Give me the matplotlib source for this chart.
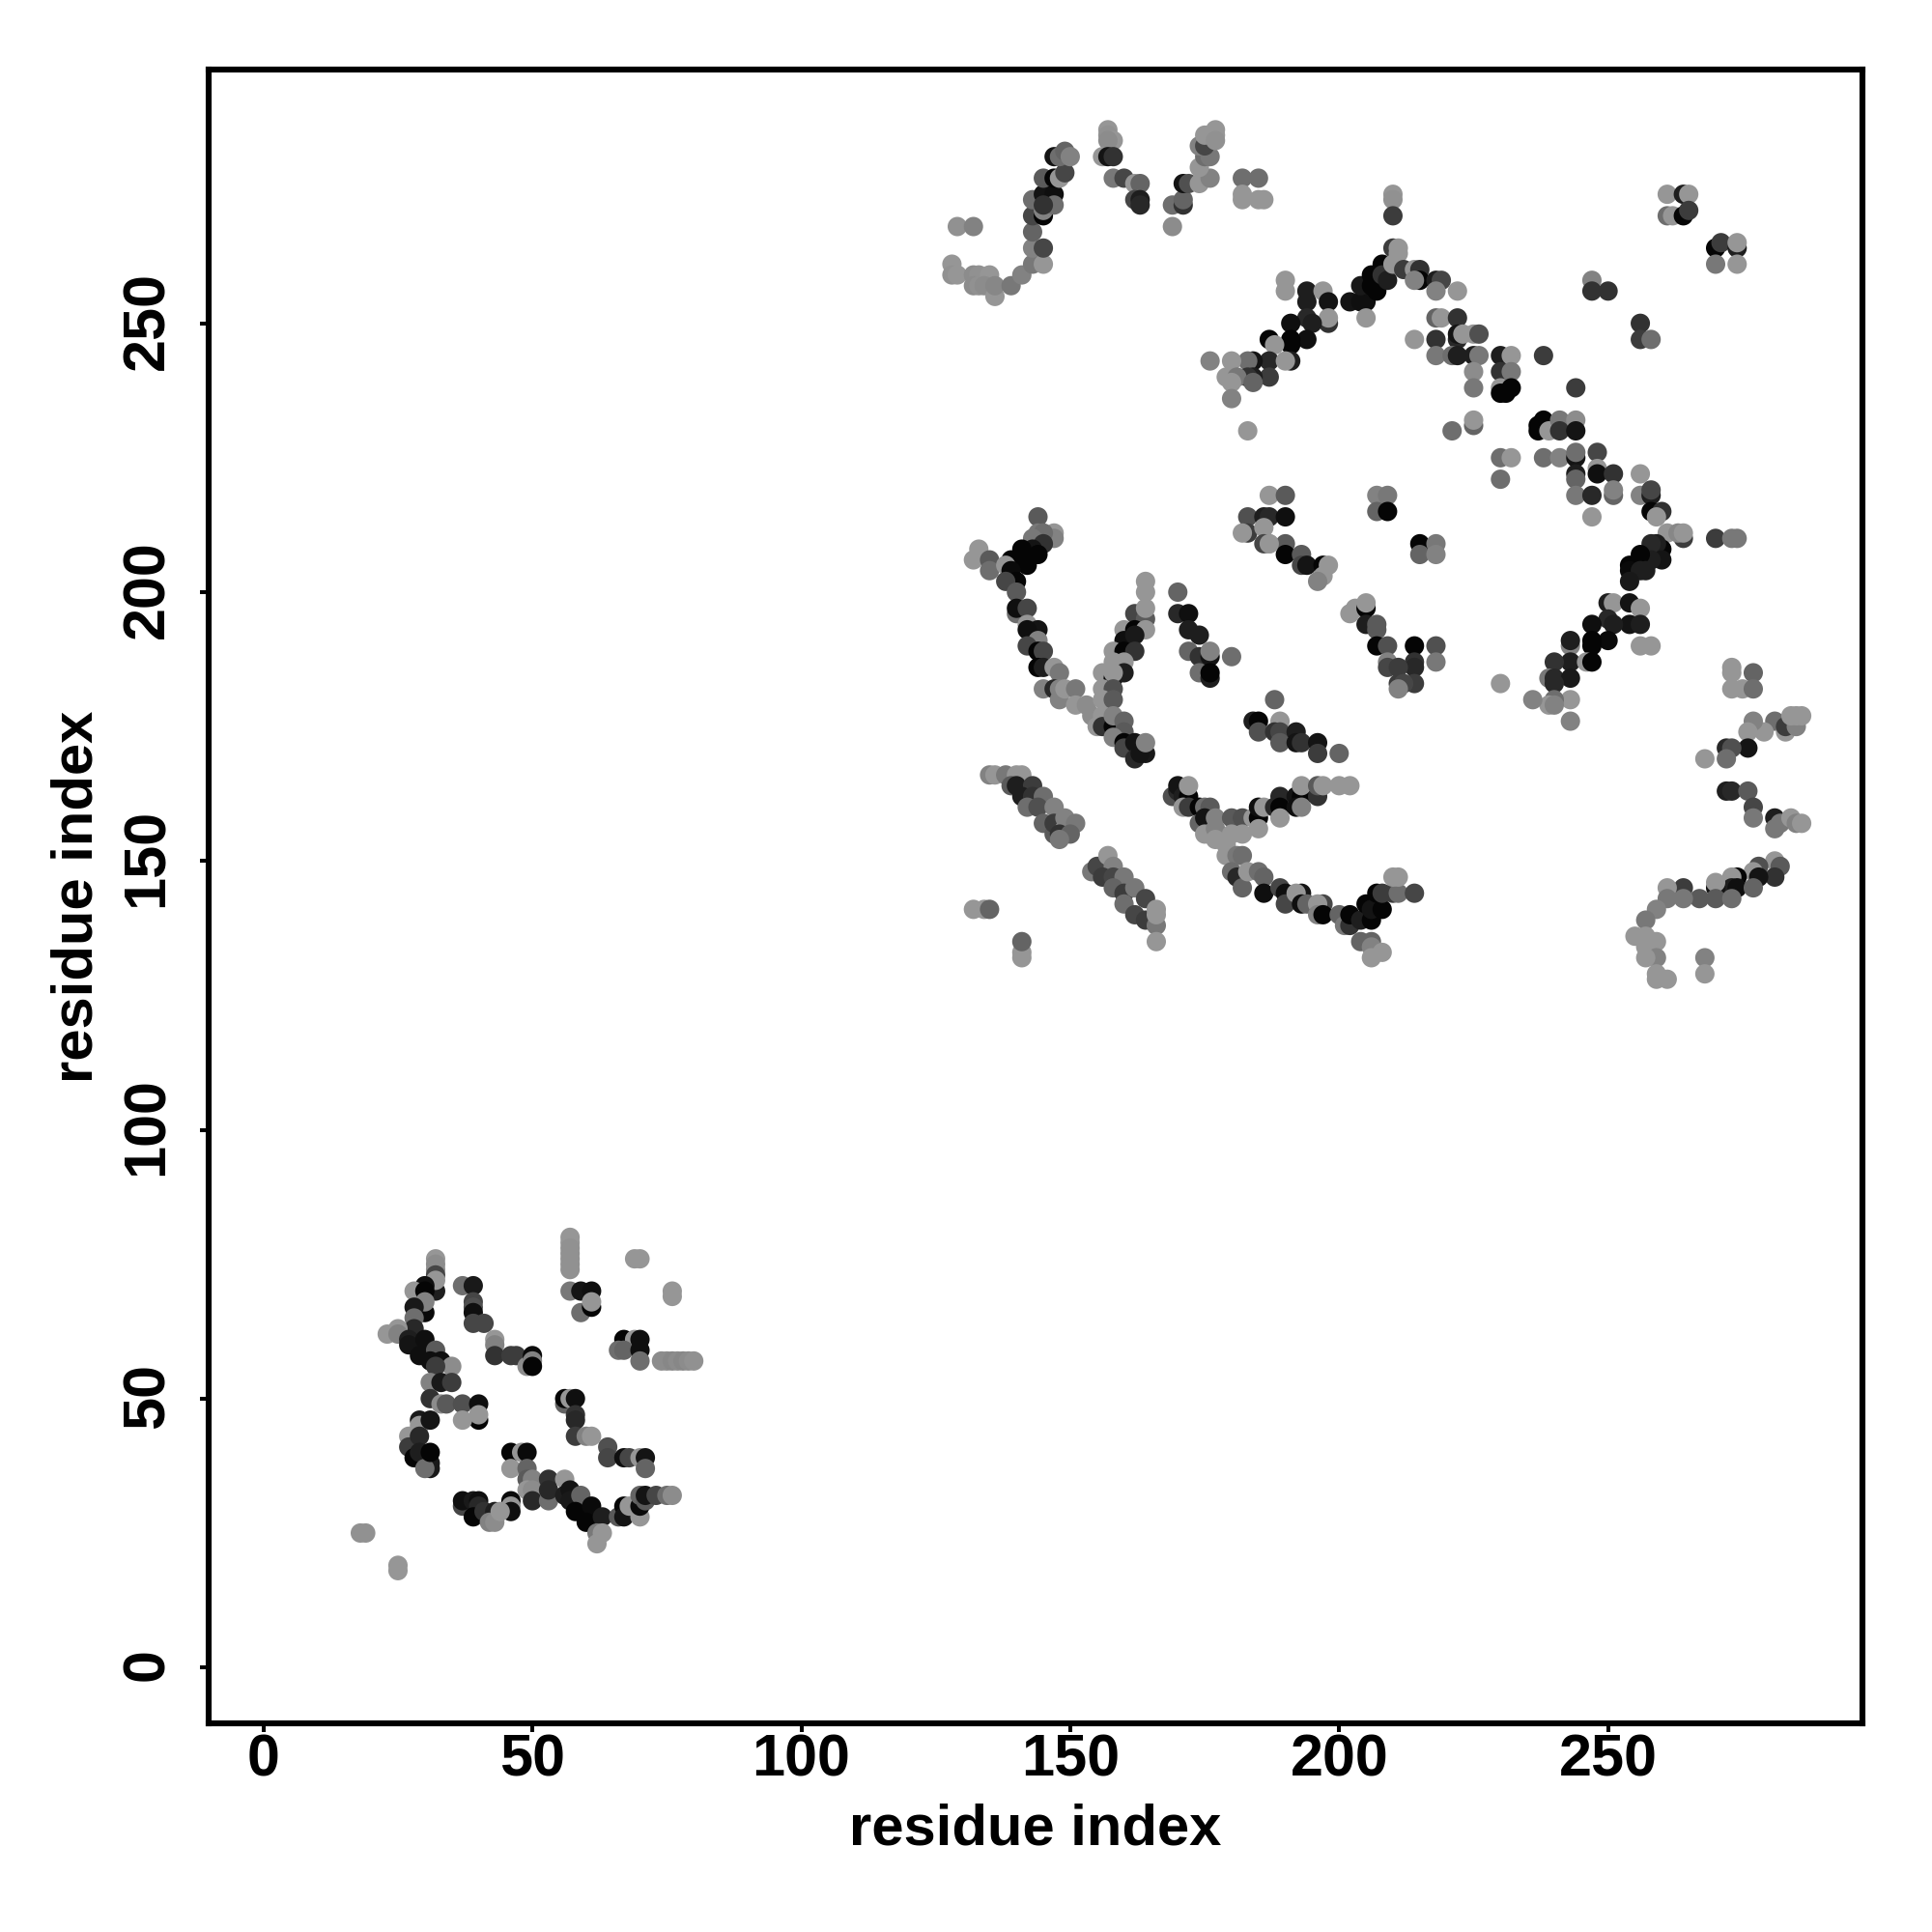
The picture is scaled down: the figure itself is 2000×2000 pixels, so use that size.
import numpy as np
import matplotlib
matplotlib.use("Agg")
import matplotlib.pyplot as plt
from matplotlib.transforms import ScaledTranslation

plt.rcParams['font.family'] = ['Liberation Sans', 'DejaVu Sans']

# (residue i, residue j, grey level of the contact)
domain1_top = [(57,80,150),(57,79,150),(57,78,145),(57,77,145),(57,76,145),(57,75,145),(57,74,145),(69,76,150),(70,76,150),(76,70,150),(76,69,150),
 (57,70,120),(59,70,20),(61,70,15),(59,66,110),(61,67,5),(61,68,150),
 (32,70,30),(32,76,150),(32,75,140),(32,74,140),(32,73,70),(32,72,150),(30,71,15),(28,70,150),(30,70,5),(30,66,10),(30,68,130),(28,67,25),(28,65,110),(28,63,40),
 (25,63,150),(23,62,150),(25,62,130),(27,61,30),(27,60,20),(30,61,15),(29,58,15),(32,59,90),(31,57,15),(33,57,15),(35,56,140),(32,56,60)]
domain1_mid = [(31,53,130),(33,53,25),(35,53,60),(31,50,50),(33,49,140),(34,49,90),(37,49,80),(40,49,15),(40,46,5),(40,47,150),(37,46,150),(29,46,25),(29,45,150),(31,46,20),
 (27,43,150),(27,41,60),(29,43,40),(28,39,5),(29,40,30),(31,38,25),(31,37,25),(30,37,110),(31,40,5),
 (37,71,110),(39,71,25),(39,68,70),(39,67,80),(39,66,15),(39,64,70),(41,64,70),(43,61,150),(43,60,130),(43,58,50),(46,58,60),(47,58,60),(49,56,140),(50,58,10),(50,57,130),(50,56,5),
 (67,61,5),(69,61,150),(70,61,15),(66,59,110),(67,59,100),(70,59,15),(70,57,110),(74,57,140),(75,57,140),(76,57,135),(77,57,140),(78,57,135),(79,57,140),(80,57,145)]
domain1_low = [(56,49,100),(56,50,5),(57,50,150),(58,50,15),(58,47,50),(58,46,40),(58,43,60),(60,43,130),(61,43,150),(64,41,80),(64,39,70),(67,39,15),(68,39,70),(70,39,150),(71,39,20),(71,37,100),
 (46,40,5),(48,40,150),(49,40,10),(46,37,150),(49,37,100),(49,35,90),(50,35,130),(49,33,150),(50,33,140),(53,35,50),(56,35,150),(50,31,40),(53,31,110),(53,33,40),(56,32,30),(57,33,20),(57,31,25),(59,32,100),(58,29,5),(61,30,10),(60,27,5),(63,28,30),(62,25,120),(62,23,150),(63,25,150),
 (66,28,90),(67,30,5),(67,28,20),(68,30,150),(70,28,150),(70,30,10),(70,32,100),(71,31,90),(71,32,20),(73,32,70),(75,32,110),(76,32,140),
 (37,30,70),(37,31,15),(39,31,25),(40,31,15),(40,30,40),(39,28,5),(41,29,50),(43,29,30),(42,27,130),(43,27,140),(46,31,10),(46,30,150),(46,29,15),(44,29,150),
 (18,25,145),(19,25,145),(25,19,150),(25,18,150)]

top_arc = [(129,268,145),(132,268,130),(128,261,150),(128,259,145),(129,259,150),(132,259,140),(133,259,145),(132,257,140),(133,257,145),(135,259,150),(134,257,140),(136,255,150),(136,257,135),(139,257,120),(141,259,130),(143,261,120),(145,261,150),(143,264,130),(145,264,70),(143,267,100),(143,270,70),(145,270,5),(145,271,130),(143,273,110),(145,274,20),(147,274,15),(147,272,110),(145,272,50),(145,277,90),(147,277,5),(148,277,150),(149,278,70),(147,281,20),(148,281,110),(149,282,100),(150,281,130),
 (157,286,150),(157,285,145),(158,284,150),(157,284,140),(156,281,150),(157,281,20),(158,281,50),(158,277,120),(160,277,70),(162,276,150),(163,276,100),(162,273,70),(163,273,30),(163,272,40),
 (169,272,110),(171,272,50),(171,273,100),(169,268,140),(171,276,20),(172,276,80),(174,276,150),(176,277,130),(174,279,150),(175,281,110),(176,281,120),(174,283,130),(175,283,70),(175,285,150),(177,286,150),(177,285,150),(177,284,145),
 (182,277,110),(185,277,110),(182,274,150),(182,273,150),(185,273,150),(186,273,150)]

upper_right = [(210,274,150),(210,273,145),(210,270,60),(261,274,150),(264,274,30),(265,274,150),(261,270,110),(262,270,150),(264,270,5),(265,271,60),(270,264,5),(271,265,60),(274,264,30),(274,265,150),(270,261,120),(274,261,150),
 (247,258,130),(247,256,50),(250,256,50),(256,250,50),(256,247,60),(258,247,110)]

ridge_up = [(190,258,150),(190,256,150),(194,256,30),(197,256,150),(194,254,30),(198,254,20),(198,250,50),(198,251,150),(194,251,40),(195,250,30),(191,250,15),(194,247,15),(191,247,5),(191,246,5),(187,247,5),(188,246,150),(187,243,40),(191,243,30),(190,243,150),(184,243,20),(183,243,110),(180,243,150),(176,243,130),(187,240,60),(184,240,30),(183,240,50),(179,240,150),(181,240,120),(184,239,100),(180,239,150),(180,236,130),(183,230,150),
 (202,254,20),(204,254,15),(205,254,15),(204,257,25),(205,251,150),(206,257,5),(207,256,5),(206,259,5),(208,261,5),(208,259,50),(209,258,30),(210,264,60),(211,264,150),(211,263,150),(210,261,150),(212,260,60),(214,260,150),(215,260,50),(215,258,5),(214,258,130),(218,258,30),(219,258,70),(218,256,130),(222,256,150)]

ridge_down = [(218,251,100),(219,251,150),(222,251,50),(214,247,150),(218,247,50),(222,247,40),(222,248,20),(223,248,150),(225,248,150),(226,248,80),(218,244,120),(221,244,110),(222,244,30),(225,244,30),(226,244,120),(225,241,140),(225,238,120),
 (230,244,30),(232,244,150),(230,241,50),(232,241,120),(230,238,150),(230,237,5),(231,237,5),(232,238,5),(238,244,60),(244,238,60),(225,231,100),(225,232,150),(221,230,110),
 (237,231,5),(238,232,5),(237,230,5),(239,230,150),(241,232,120),(241,230,50),(244,232,140),(244,230,20),
 (230,225,110),(232,225,150),(238,225,110),(241,225,130),(244,225,20),(244,226,110),(244,222,30),(244,221,100),(248,226,70),(248,223,150),(248,222,15),(251,222,50),(230,221,110),(244,218,120),(247,218,40),(251,218,100),(251,219,130),(247,214,150),
 (256,222,150),(256,218,130),(258,218,30),(258,219,70),(258,215,5),(260,215,50),(259,214,150),(264,210,60),(261,211,150),(263,211,135),(264,211,150),(270,210,60),(273,210,120),(274,210,120)]

lower_ridge = [(260,208,5),(259,209,30),(258,209,40),(260,206,20),(258,206,30),(256,207,5),(257,204,30),(254,205,5),(254,204,10),(256,204,30),(254,202,25),
 (250,198,30),(251,198,150),(254,198,20),(256,197,150),(254,194,20),(256,194,30),(250,195,40),(251,194,30),(247,194,15),(250,191,10),(247,191,5),(243,190,130),(243,191,30),(247,190,5),(243,187,30),(240,187,50),(246,187,150),(247,187,5),(239,184,120),(240,184,40),(243,184,25),(240,183,40),(243,180,150),(240,180,110),(239,179,150),(236,180,130),(240,179,130),(243,176,130),(230,183,150),(256,190,150),(258,190,150)]

middle_bits = [(187,218,150),(190,218,90),(207,218,130),(209,218,120),(207,215,100),(209,215,5),(215,209,5),(218,209,120),(215,207,100),(218,207,130),
 (187,209,150),(190,209,90),(190,207,5),(193,207,90),(193,205,70),(194,205,20),(197,205,5),(198,205,150),(197,203,150),(196,202,130),
 (183,214,80),(186,214,30),(187,214,40),(190,214,15),(183,211,60),(182,211,150),(186,212,150),(186,209,70),(187,209,150),
 (202,196,150),(203,197,150),(205,197,5),(205,198,150),(205,194,30),(207,194,90),(207,193,90),(207,190,5),(209,190,80),(214,190,5),(218,190,80),(218,187,120),(214,187,50),(214,186,40),(209,187,130),(209,186,70),(211,186,60),(211,183,60),(214,183,60),(212,183,70),(211,182,130)]

v_left = [(144,214,90),(147,211,150),(147,210,130),(144,211,120),(145,211,110),(143,210,120),(145,209,50),(143,208,20),(144,207,5),(141,208,5),(141,206,5),(142,205,5),(139,206,5),(133,208,150),(132,206,150),(135,206,90),(135,204,110),(138,205,150),(139,204,10),(140,202,5),(138,202,70),(140,200,90),
 (140,196,110),(140,197,15),(142,197,70),(142,194,150),(144,193,20),(142,193,15),(144,191,130),(142,190,70),(144,189,5),(145,189,70),(144,186,5),(145,186,30),(147,186,150),(148,185,120),(145,182,130),(147,182,40),(148,182,130),(148,180,130),(149,182,150),(151,182,120),(151,179,150),(153,179,140),(154,177,140),(155,175,150)]

v_right = [(164,202,150),(164,200,150),(162,196,70),(164,195,90),(164,197,150),(160,193,150),(162,193,5),(164,193,150),(160,191,15),(162,192,25),(158,189,150),(160,189,5),(162,189,50),(158,187,150),(160,187,150),(156,185,150),(158,184,5),(160,185,30),(158,185,150),(156,182,150),(158,182,80),(156,180,150),(158,180,90),(156,177,150),(156,175,50),(158,175,5),(158,177,130),(160,176,100),(160,174,90),(158,173,130),(160,172,5),(160,171,70),(162,172,20),(162,169,40),(164,170,25),(163,170,20),(164,172,130),
 (170,200,100),(170,196,40),(172,196,15),(172,193,30),(174,192,30),(172,189,100),(174,188,50),(176,188,20),(176,189,130),(180,188,110),(174,185,110),(176,184,30),(176,185,5),
 (188,180,100),(184,176,30),(185,176,5),(189,176,150),(185,174,80),(188,174,50),(189,174,70),(189,172,90),(192,174,30),(192,172,20),(193,172,50),(196,172,20),(196,170,60),(200,170,100)]

diagonals = [(135,166,130),(136,166,150),(138,166,120),(140,166,150),(141,166,150),(139,164,90),(140,164,30),(143,164,60),(141,162,30),(143,162,50),(142,160,110),(145,162,110),(144,160,80),(147,160,130),(145,157,100),(147,155,90),(147,157,60),(149,156,150),(149,158,130),(148,155,50),(151,157,120),(150,155,100),(148,154,120),
 (154,148,120),(155,149,70),(157,151,150),(158,149,130),(156,147,60),(158,147,70),(160,147,120),(158,145,100),(160,144,60),(162,145,120),(160,142,110),(164,143,70),(162,140,70),(164,139,60),(166,138,120),(166,140,150),(166,141,150),(166,135,150),
 (132,141,150),(134,141,150),(135,141,100),(141,133,150),(141,132,150),(141,135,100)]

arm_upper = [(169,162,80),(170,163,40),(170,164,20),(171,162,30),(172,162,5),(172,164,150),(171,160,150),(172,160,60),(174,160,5),(175,160,110),(176,160,90),(174,157,100),(175,158,20),(177,158,130),(175,155,150),(177,156,130),(177,154,150),(179,153,150),(180,158,90),(182,158,80),(180,155,150),(182,155,150),(184,158,150),(185,158,5),(185,160,15),(186,160,150),(185,156,150),(188,160,40),(189,162,40),(189,160,5),(189,158,150),(192,162,20),(193,162,5),(192,160,15),(193,160,130),(193,164,150),(196,162,50),(196,164,90),(197,164,150),(200,164,150),(202,164,150)]

arm_lower = [(179,151,150),(181,151,120),(182,151,110),(180,148,110),(181,147,40),(182,145,100),(183,148,150),(185,148,110),(186,147,100),(186,144,15),(189,145,70),(190,144,15),(190,142,70),(193,144,20),(192,144,150),(193,142,15),(194,142,100),(197,142,70),(196,142,150),(196,140,130),(197,140,5),(200,140,100),(201,138,120),(202,138,50),(202,140,5),(204,139,30),(205,142,5),(206,139,5),(206,141,20),(207,144,5),(208,141,5),(208,144,60),(210,144,60),(211,144,110),(210,147,150),(211,147,150),(214,144,70),(204,135,100),(206,135,100),(206,134,130),(206,132,150),(208,133,150)]

right_edge = [(273,186,150),(273,185,150),(277,185,100),(273,182,150),(275,182,150),(277,182,110),(281,176,110),(283,174,150),(283,175,60),(285,175,130),(284,177,150),(285,177,150),(286,177,150),(279,174,150),(277,176,130),(276,174,150),(276,171,20),(272,171,40),(273,171,80),(272,169,110),(268,169,150),
 (272,163,30),(273,163,40),(276,163,90),(277,160,70),(277,158,120),(281,158,30),(281,156,120),(282,157,120),(284,158,150),(285,157,130),(286,157,150),
 (281,150,150),(278,149,80),(282,149,90),(277,148,150),(281,147,50),(278,147,20),(274,147,5),(273,147,150),(273,145,30),(274,145,15),(270,145,20),(270,146,150),(277,145,100),(270,143,90),(273,143,110),(267,143,90),(264,145,60),(261,145,150),(264,143,120),(261,143,120),(259,141,130),(257,139,120),(255,136,150),(257,136,150),(259,135,150),(257,134,150),(259,132,130),(257,132,150),(259,129,150),(261,128,150),(259,128,150),(268,132,130),(268,129,150)]

clusters = [domain1_top, domain1_mid, domain1_low, top_arc, upper_right, ridge_up, ridge_down,
            lower_ridge, middle_bits, v_left, v_right, diagonals, arm_upper, arm_lower, right_edge]

axis_ticks = [0, 50, 100, 150, 200, 250]
axis_label = "residue index"

fig = plt.figure(figsize=(10, 10), dpi=200)
ax = fig.add_axes([216/2000, 1 - 1784/2000, (1928-216)/2000, (1784-72)/2000])

for c in clusters:
    a = np.array(c, dtype=float)
    ax.scatter(a[:, 0], a[:, 1], s=52, c=[(v/255, v/255, v/255) for v in a[:, 2]],
               linewidths=0, zorder=3)

ax.set_xlim(-10.2, 297.3)
ax.set_ylim(-10.4, 297.2)
ax.set_xticks(axis_ticks)
ax.set_yticks(axis_ticks)
for s in ax.spines.values():
    s.set_linewidth(2.2)
ax.tick_params(axis='x', length=3.2, width=1.45, labelsize=22, pad=0.7)
ax.tick_params(axis='y', length=3.2, width=1.45, labelsize=22, pad=9)
for t in ax.get_xticklabels():
    t.set_fontweight('bold')
nudge = ScaledTranslation(0, 3/200, fig.dpi_scale_trans)
for t in ax.get_yticklabels():
    t.set_fontweight('bold')
    t.set_rotation(90)
    t.set_va('center')
    t.set_transform(t.get_transform() + nudge)
ax.set_xlabel(axis_label, fontsize=21.5, fontweight='bold')
ax.set_ylabel(axis_label, fontsize=21.5, fontweight='bold')
ax.xaxis.set_label_coords(0.5, -(1894-1784)/1712, transform=ax.transAxes)
ax.xaxis.label.set_va('center')
ax.yaxis.set_label_coords(-(216-80)/1712, 0.5, transform=ax.transAxes)
ax.yaxis.label.set_va('center')

fig.savefig("out.png", dpi=200, facecolor='white')
